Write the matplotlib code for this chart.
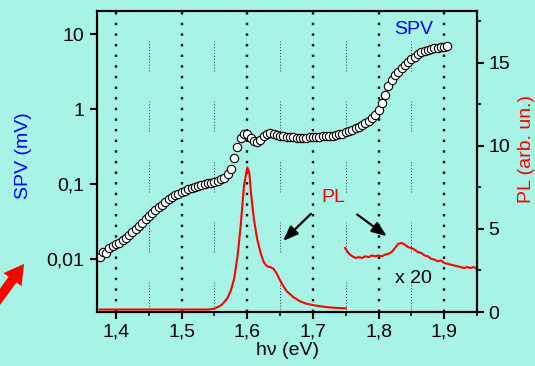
import numpy as np
import matplotlib
matplotlib.use("Agg")
from matplotlib import pyplot as plt
from matplotlib.ticker import FixedLocator, FuncFormatter, NullLocator

# SPV (mV), open circles, every 5 meV from 1.375 to 1.905 eV
spv_ev = np.round(np.arange(1.375, 1.9051, 0.005), 3)
spv = [0.0105, 0.0125, 0.0120, 0.0140, 0.0150, 0.0160, 0.0165, 0.0180, 0.0190, 0.0210,
       0.0230, 0.0250, 0.0275, 0.0300, 0.0340, 0.0370, 0.0410, 0.0450, 0.0490, 0.0530,
       0.0580, 0.0630, 0.0670, 0.0710, 0.0740, 0.0770, 0.0810, 0.0850, 0.0880, 0.0910,
       0.0940, 0.0960, 0.0990, 0.1020, 0.1040, 0.1060, 0.1100, 0.1150, 0.1220, 0.1350,
       0.160, 0.220, 0.310, 0.410, 0.470, 0.470, 0.410, 0.370, 0.360, 0.390,
       0.440, 0.470, 0.480, 0.460, 0.450, 0.440, 0.430, 0.425, 0.420, 0.420,
       0.415, 0.415, 0.415, 0.415, 0.420, 0.420, 0.420, 0.425, 0.430, 0.430,
       0.435, 0.440, 0.450, 0.460, 0.470, 0.490, 0.510, 0.530, 0.550, 0.570,
       0.610, 0.650, 0.700, 0.760, 0.840, 0.970, 1.200, 1.550, 2.000, 2.450,
       2.800, 3.150, 3.500, 3.900, 4.300, 4.600, 5.000, 5.400, 5.700, 5.950,
       6.150, 6.300, 6.450, 6.600, 6.700, 6.800, 6.900]

# PL (arb. un.)
pl_ev = [1.375, 1.45, 1.54, 1.55, 1.56, 1.565, 1.57, 1.575, 1.58, 1.585, 1.59, 1.595,
         1.60, 1.603, 1.606, 1.61, 1.615, 1.62, 1.625, 1.63, 1.635, 1.64, 1.645, 1.65,
         1.655, 1.66, 1.67, 1.68, 1.69, 1.70, 1.71, 1.72, 1.73, 1.74, 1.75]
pl = [0.15, 0.15, 0.15, 0.2, 0.4, 0.6, 0.85, 1.3, 2.0, 3.3, 5.2, 7.6,
      8.7, 8.4, 7.0, 5.6, 4.4, 3.6, 3.0, 2.75, 2.7, 2.6, 2.3, 1.9,
      1.55, 1.25, 0.9, 0.65, 0.5, 0.42, 0.35, 0.3, 0.26, 0.24, 0.22]

# PL x 20
pl20_ev = [1.749, 1.755, 1.760, 1.765, 1.770, 1.775, 1.780, 1.785, 1.790, 1.795,
           1.800, 1.805, 1.810, 1.815, 1.820, 1.825, 1.830, 1.835, 1.840, 1.845,
           1.850, 1.855, 1.860, 1.865, 1.870, 1.875, 1.880, 1.885, 1.890, 1.895,
           1.900, 1.905, 1.910, 1.915, 1.920, 1.925, 1.930, 1.935, 1.940, 1.945, 1.950]
pl20 = [3.85, 3.50, 3.35, 3.25, 3.30, 3.25, 3.35, 3.30, 3.40, 3.35,
        3.40, 3.35, 3.45, 3.50, 3.60, 3.85, 4.10, 4.15, 4.05, 3.90,
        3.85, 3.75, 3.60, 3.55, 3.40, 3.35, 3.20, 3.15, 3.05, 3.10,
        2.95, 2.90, 2.85, 2.80, 2.75, 2.70, 2.65, 2.70, 2.65, 2.70, 2.60]

x_major = [1.4, 1.5, 1.6, 1.7, 1.8, 1.9]
x_minor = [1.45, 1.55, 1.65, 1.75, 1.85, 1.95]

bg = '#a7f3e5'
plt.rcParams['font.family'] = ['Liberation Sans', 'DejaVu Sans']
fs = 14

fig = plt.figure(figsize=(5.35, 3.66), dpi=100, facecolor=bg)
ax = fig.add_axes([0.1813, 0.1475, 0.7103, 0.8225])
ax.set_facecolor(bg)
ax2 = ax.twinx()
ax2.patch.set_visible(False)

# grid lines
for xv in x_major:
    ax.axvline(xv, color='black', lw=1.7, linestyle=(0, (1, 3.5)), zorder=0)
for xv in x_minor:
    for y0 in [0.0, 0.2, 0.4, 0.6, 0.8]:
        ax.axvline(xv, y0, y0 + 0.1, color='#333333', lw=0.7, linestyle=(0, (1, 2)), zorder=0)

# SPV
ax.plot(spv_ev, spv, 'o', ms=6, mfc='white', mec='black', mew=0.8, zorder=3)
ax.set_yscale('log')
ax.set_ylim(0.00196, 20.3)
ax.set_xlim(1.371, 1.950)
ax.yaxis.set_major_locator(FixedLocator([0.01, 0.1, 1, 10]))
ax.yaxis.set_minor_locator(NullLocator())
ax.yaxis.set_major_formatter(FuncFormatter(lambda v, p: {0.01: '0,01', 0.1: '0,1', 1: '1', 10: '10'}.get(round(v, 3), '')))
ax.xaxis.set_major_locator(FixedLocator(x_major))
ax.xaxis.set_minor_locator(FixedLocator(x_minor))
ax.xaxis.set_major_formatter(FuncFormatter(lambda v, p: ('%.1f' % v).replace('.', ',')))

# PL
ax2.plot(pl_ev, pl, color='red', lw=1.5)
ax2.plot(pl20_ev, pl20, color='red', lw=1.5)
ax2.set_ylim(0, 18.1)
ax2.yaxis.set_major_locator(FixedLocator([0, 5, 10, 15]))
ax2.yaxis.set_minor_locator(FixedLocator([2.5, 7.5, 12.5, 17.5]))

for a in (ax, ax2):
    for s in a.spines.values():
        s.set_linewidth(1.5)
    a.tick_params(which='major', direction='out', length=5, width=1.5, pad=3, labelsize=fs, colors='black')
    a.tick_params(which='minor', direction='out', length=3, width=1.2)
ax.tick_params(axis='y', which='major', pad=4)

ax.set_xlabel('hν (eV)', fontsize=fs, labelpad=1)
ax.set_ylabel('SPV (mV)', fontsize=fs, color='blue')
ax.yaxis.set_label_coords(-0.171, 0.52)
ax2.set_ylabel('PL (arb. un.)', fontsize=fs, color='red')
ax2.yaxis.set_label_coords(1.108, 0.54)

# annotations
ax2.text(1.853, 17.0, 'SPV', color='blue', fontsize=fs, ha='center', va='center')
ax2.text(1.731, 6.87, 'PL', color='red', fontsize=fs, ha='center', va='center')
ax2.text(1.853, 2.0, 'x 20', color='black', fontsize=fs, ha='center', va='center')
ax2.annotate('', xy=(1.6515, 4.16), xytext=(1.700, 6.02),
             arrowprops=dict(arrowstyle='-|>,head_length=0.9,head_width=0.35', color='black', lw=1.6))
ax2.annotate('', xy=(1.816, 4.46), xytext=(1.764, 5.96),
             arrowprops=dict(arrowstyle='-|>,head_length=0.9,head_width=0.35', color='black', lw=1.6))

# red arrow at the left edge
fig.add_artist(matplotlib.patches.FancyArrowPatch((-0.012, 0.165), (0.048, 0.285), transform=fig.transFigure,
               arrowstyle='simple,head_length=0.7,head_width=0.8,tail_width=0.35', mutation_scale=20,
               color='red', lw=0))

fig.savefig('out.png', dpi=100, facecolor=bg)
